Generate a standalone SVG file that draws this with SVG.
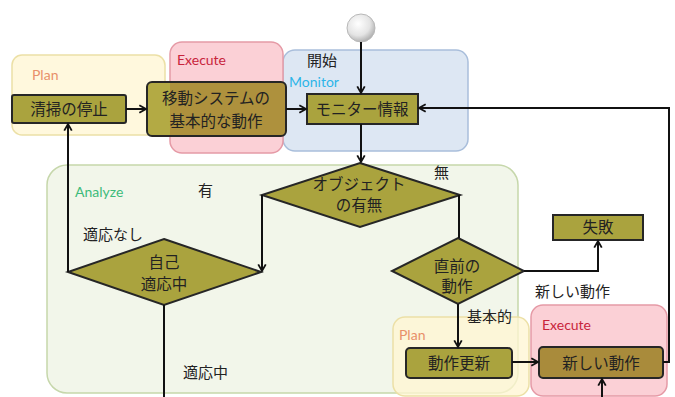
<svg xmlns="http://www.w3.org/2000/svg" width="675" height="397" viewBox="0 0 675 397">
<defs>
<radialGradient id="gs" cx="0.4" cy="0.35" r="0.7">
<stop offset="0" stop-color="#ffffff"/>
<stop offset="0.6" stop-color="#e4e4e4"/>
<stop offset="1" stop-color="#a8a8a8"/>
</radialGradient>
<linearGradient id="gidou" gradientUnits="userSpaceOnUse" x1="147" y1="0" x2="286" y2="0">
<stop offset="0" stop-color="#b3aa44"/>
<stop offset="0.165" stop-color="#b3aa44"/>
<stop offset="0.166" stop-color="#ae913d"/>
<stop offset="1" stop-color="#ae913d"/>
</linearGradient>
<marker id="ah" viewBox="0 0 12 12" refX="10" refY="6" markerWidth="10" markerHeight="10" orient="auto" markerUnits="userSpaceOnUse">
<path d="M2,1.5 L10,6 L2,10.5" fill="none" stroke="#111" stroke-width="2.2" stroke-linejoin="miter"/>
</marker>
</defs>
<style>
.jp{font-family:"Noto Sans CJK JP","Noto Sans CJK SC",sans-serif;fill:#222;font-size:15px}
.bx{font-size:15.5px;text-anchor:middle}
.lat{font-family:Lato,"Open Sans",sans-serif;font-size:14px}
.box{fill:#aaa33e;stroke:#262626;stroke-width:2}
.brown{fill:#a98b3b}
.plan{fill:#fff6d2;fill-opacity:0.75;stroke:#ece0a6;stroke-width:1.5}
.exe{fill:#fbd0d6;stroke:#e59aa6;stroke-width:1.5}
.mon{fill:#dde7f3;stroke:#a9bedb;stroke-width:1.5}
.ana{fill:#f0f5e6;fill-opacity:0.85;stroke:#c6d7ab;stroke-width:1.5}
.ln{fill:none;stroke:#111;stroke-width:2}
</style>
<rect width="675" height="397" fill="#ffffff"/>

<g id="region-monitor"><rect class="mon" x="283" y="50" width="185" height="101" rx="12"/>
<text class="jp" x="307" y="66">開始</text>
<text class="lat" x="289" y="87" fill="#2cb5e8">Monitor</text></g>
<g id="region-analyze"><rect class="ana" x="47" y="165" width="471" height="228" rx="20"/>
<text class="lat" x="75" y="197" fill="#3dbb7a">Analyze</text></g>
<g id="region-plan1"><rect class="plan" x="12" y="55" width="153" height="80" rx="10"/>
<text class="lat" x="32" y="80" fill="#e8906a">Plan</text></g>
<g id="region-execute1"><rect class="exe" x="170" y="42" width="113" height="111" rx="12"/>
<text class="lat" x="177" y="65" fill="#c8243c">Execute</text></g>
<g id="region-plan2"><rect class="plan" x="393" y="317" width="136" height="79" rx="12"/>
<text class="lat" x="399" y="340" fill="#e8906a">Plan</text></g>
<g id="region-execute2"><rect class="exe" x="531" y="305" width="136" height="91" rx="12"/>
<text class="lat" x="542" y="330" fill="#c8243c">Execute</text></g>

<g id="n-seisou"><rect class="box" x="12" y="95" width="114" height="28" rx="2"/>
<text class="jp bx" x="69" y="115">清掃の停止</text></g>
<g id="n-idou"><rect class="box" x="147" y="82" width="139" height="54" rx="5" style="fill:url(#gidou)"/>
<text class="jp bx" x="216" y="104">移動システムの</text>
<text class="jp bx" x="216" y="127">基本的な動作</text></g>
<g id="n-start"><circle cx="361" cy="28" r="14" fill="url(#gs)" stroke="#b8b8b8" stroke-width="1"/></g>
<g id="n-monitor"><rect class="box" x="307" y="94" width="111" height="30"/>
<text class="jp bx" x="362" y="115">モニター情報</text></g>
<g id="n-object"><polygon class="box" points="360,163 460,195 360,227 262,195"/>
<text class="jp bx" x="359" y="190">オブジェクト</text>
<text class="jp bx" x="359" y="211">の有無</text></g>
<g id="n-jiko"><polygon class="box" points="164,239 261,272 164,305 68,272"/>
<text class="jp bx" x="164" y="268">自己</text>
<text class="jp bx" x="164" y="290">適応中</text></g>
<g id="n-chokuzen"><polygon class="box" points="458,238 524,271 458,304 392,271"/>
<text class="jp bx" x="457" y="272">直前の</text>
<text class="jp bx" x="457" y="292">動作</text></g>
<g id="n-shippai"><rect class="box" x="553" y="215" width="90" height="25"/>
<text class="jp bx" x="598" y="233">失敗</text></g>
<g id="n-update"><rect class="box" x="406" y="348" width="106" height="30" rx="4"/>
<text class="jp bx" x="459" y="369">動作更新</text></g>
<g id="n-new"><rect class="box brown" x="539" y="347" width="124" height="31" rx="4"/>
<text class="jp bx" x="601" y="369">新しい動作</text></g>

<g id="connectors">
<line class="ln" x1="126" y1="109" x2="146" y2="109" marker-end="url(#ah)"/>
<line class="ln" x1="286" y1="109" x2="306" y2="109" marker-end="url(#ah)"/>
<line class="ln" x1="361" y1="42" x2="361" y2="93" marker-end="url(#ah)"/>
<line class="ln" x1="361" y1="124" x2="361" y2="162" marker-end="url(#ah)"/>
<polyline class="ln" points="663,362 669,362 669,108 419,108" marker-end="url(#ah)"/>
<polyline class="ln" points="262,195 262,271" marker-end="url(#ah)"/>
<polyline class="ln" points="68,272 68,124" marker-end="url(#ah)"/>
<line class="ln" x1="164" y1="305" x2="164" y2="397"/>
<line class="ln" x1="459" y1="195" x2="459" y2="238"/>
<polyline class="ln" points="524,271 598,271 598,241" marker-end="url(#ah)"/>
<line class="ln" x1="458" y1="304" x2="458" y2="347" marker-end="url(#ah)"/>
<line class="ln" x1="512" y1="362" x2="538" y2="362" marker-end="url(#ah)"/>
<line class="ln" x1="602" y1="397" x2="602" y2="379" marker-end="url(#ah)"/>
</g>

<g id="labels">
<text class="jp" x="198" y="196">有</text>
<text class="jp" x="434" y="178">無</text>
<text class="jp" x="83" y="240">適応なし</text>
<text class="jp" x="183" y="378">適応中</text>
<text class="jp" x="535" y="297">新しい動作</text>
<text class="jp" x="467" y="322">基本的</text>
</g>
</svg>
